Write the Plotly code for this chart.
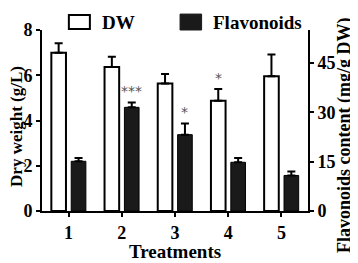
import plotly.graph_objects as go

treatments = [1, 2, 3, 4, 5]
dw = [6.99, 6.37, 5.64, 4.87, 5.96]
dw_err = [0.42, 0.45, 0.42, 0.52, 0.96]
flav = [15.1, 31.5, 23.2, 14.8, 10.8]
flav_err = [1.0, 1.5, 3.4, 1.3, 1.2]
dw_sig = ["", "", "", "*", ""]
flav_sig = ["", "***", "*", "", ""]

FONT = "Liberation Serif"
BAR_W = 0.275
DW_OFF = -0.3245
FL_OFF = 0.0495

fig = go.Figure()
fig.add_trace(go.Bar(
    x=treatments, y=dw, name="DW", width=BAR_W, offset=DW_OFF,
    marker=dict(color="white", line=dict(color="black", width=2)),
    error_y=dict(type="data", array=dw_err, arrayminus=[0]*5, symmetric=False,
                 color="black", thickness=2, width=4),
    showlegend=False, yaxis="y"))
fig.add_trace(go.Bar(
    x=treatments, y=flav, name="Flavonoids", width=BAR_W, offset=FL_OFF,
    marker=dict(color="#1a1a1a", line=dict(color="black", width=1)),
    error_y=dict(type="data", array=flav_err, arrayminus=[0]*5, symmetric=False,
                 color="black", thickness=2, width=4),
    showlegend=False, yaxis="y2"))

starfont = dict(family="DejaVu Sans", size=14, color="#555")
ann = []
for t, v, e, s in zip(treatments, dw, dw_err, dw_sig):
    if s:
        ann.append(dict(x=t + DW_OFF + BAR_W / 2, y=v + e, xref="x", yref="y", text=s,
                        showarrow=False, yanchor="bottom", yshift=1, font=starfont))
for t, v, e, s in zip(treatments, flav, flav_err, flav_sig):
    if s:
        ann.append(dict(x=t + FL_OFF + BAR_W / 2, y=v + e, xref="x", yref="y2", text=s,
                        showarrow=False, yanchor="bottom", yshift=1, font=starfont))

titlefont = dict(family=FONT, size=19, color="black")
ltitlefont = dict(family=FONT, size=17, color="black")
rtitlefont = dict(family=FONT, size=18, color="black")
# axis titles
ann.append(dict(x=-0.094, y=0.47, xref="paper", yref="paper", text="<b>Dry weight (g/L)</b>",
                textangle=-90, showarrow=False, xanchor="center", yanchor="middle", font=ltitlefont))
ann.append(dict(x=1.139, y=0.42, xref="paper", yref="paper", text="<b>Flavonoids content (mg/g DW)</b>",
                textangle=-90, showarrow=False, xanchor="center", yanchor="middle", font=rtitlefont))
ann.append(dict(x=0.5, y=-0.2265, xref="paper", yref="paper", text="<b>Treatments</b>",
                showarrow=False, xanchor="center", yanchor="middle", font=titlefont))

# legend drawn manually
ann.append(dict(x=0.218, y=1.044, xref="paper", yref="paper", text="<b>DW</b>",
                showarrow=False, xanchor="left", yanchor="middle", font=titlefont))
ann.append(dict(x=0.636, y=1.044, xref="paper", yref="paper", text="<b>Flavonoids</b>",
                showarrow=False, xanchor="left", yanchor="middle", font=titlefont))
shapes = [
    dict(type="rect", xref="paper", yref="paper", x0=0.101, x1=0.180, y0=1.005, y1=1.083,
         line=dict(color="black", width=2), fillcolor="white"),
    dict(type="rect", xref="paper", yref="paper", x0=0.519, x1=0.600, y0=1.0, y1=1.088,
         line=dict(color="#1a1a1a", width=1), fillcolor="#1a1a1a"),
]

axfont = dict(family=FONT, size=18, color="black")
common = dict(showline=True, linecolor="black", linewidth=2, ticks="outside",
              ticklen=4, tickwidth=2, tickcolor="black", showgrid=False, zeroline=False,
              tickfont=axfont, automargin=False)
fig.update_layout(
    width=350, height=255,
    margin=dict(l=34, r=50, t=22, b=52),
    paper_bgcolor="white", plot_bgcolor="white",
    font=dict(family=FONT, size=18, color="black"),
    xaxis=dict(range=[0.5, 5.5], tickvals=treatments, ticktext=[f"<b>{t}</b>" for t in treatments],
               **common),
    yaxis=dict(range=[0, 8], tickvals=[0, 2, 4, 6, 8],
               ticktext=["<b>0</b>", "<b>2</b>", "<b>4</b>", "<b>6</b>", "<b>8</b>"], **common),
    yaxis2=dict(range=[0, 55], tickvals=[0, 15, 30, 45],
                ticktext=["<b>0</b>", "<b>15</b>", "<b>30</b>", "<b>45</b>"],
                overlaying="y", side="right", **common),
    annotations=ann, shapes=shapes,
)

fig.write_html("out.html")
